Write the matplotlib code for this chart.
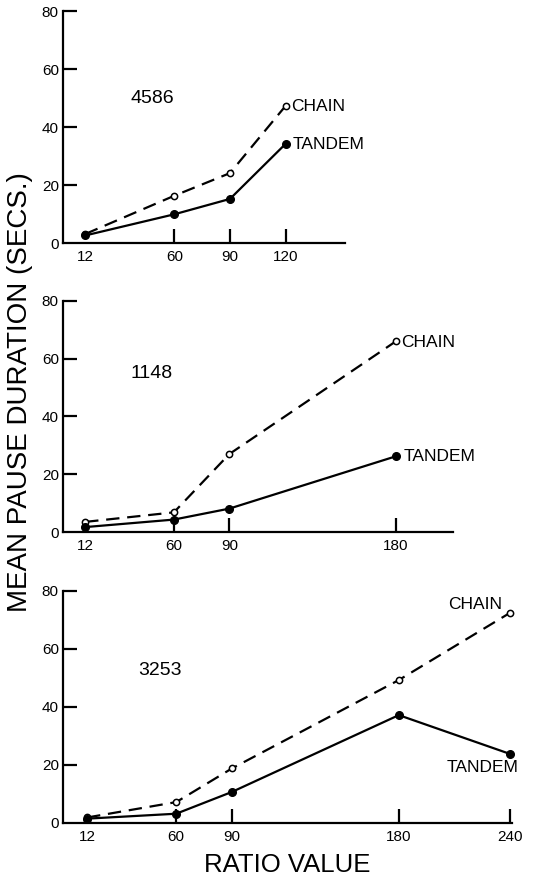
import matplotlib
matplotlib.use("Agg")
import matplotlib.pyplot as plt

# ratio values per subject
ratio_4586 = [12, 60, 90, 120]
chain_4586 = [3.1, 16.3, 24.1, 47.3]
tandem_4586 = [2.6, 9.9, 15.2, 34.2]

ratio_1148 = [12, 60, 90, 180]
chain_1148 = [3.5, 6.8, 27.0, 66.0]
tandem_1148 = [1.7, 4.3, 8.1, 26.2]

ratio_3253 = [12, 60, 90, 180, 240]
chain_3253 = [1.9, 7.2, 18.8, 49.3, 72.5]
tandem_3253 = [1.5, 3.2, 10.7, 37.2, 23.8]

yticks = [0, 20, 40, 60, 80]

plt.rcParams['font.family'] = ['Liberation Sans', 'DejaVu Sans']

W, H = 533, 881
fig = plt.figure(figsize=(W / 100, H / 100), dpi=100)


def make_ax(x0, x1, ytop, ybot):
    return fig.add_axes([x0 / W, 1 - ybot / H, (x1 - x0) / W, (ybot - ytop) / H])


def style(ax, xt, xlim):
    for s in ['top', 'right']:
        ax.spines[s].set_visible(False)
    for s in ['left', 'bottom']:
        ax.spines[s].set_linewidth(1.6)
    ax.set_xlim(*xlim)
    ax.set_ylim(0, 80)
    ax.set_yticks(yticks)
    ax.set_xticks(xt)
    ax.set_xticklabels([str(v) for v in xt])
    ax.tick_params(axis='both', direction='in', length=10, width=1.6,
                   labelsize=11)
    ax.tick_params(axis='y', pad=3)
    ax.tick_params(axis='x', pad=5)
    ax.xaxis.get_major_ticks()[0].tick1line.set_visible(False)
    ax.yaxis.get_major_ticks()[0].tick1line.set_visible(False)


def draw(ax, x, chain, tandem):
    ax.plot(x, chain, color='black', lw=1.6, dashes=(6, 3.5), marker='o',
            ms=4.5, mfc='white', mec='black', mew=1.1, clip_on=False, zorder=3)
    ax.plot(x, tandem, color='black', lw=1.6, marker='o', ms=5.5,
            mfc='black', mec='black', clip_on=False, zorder=4)


ax1 = make_ax(63, 345, 11, 243)
style(ax1, ratio_4586, (0, 152))
draw(ax1, ratio_4586, chain_4586, tandem_4586)
ax1.text(48, 50, '4586', fontsize=14, ha='center', va='center')
ax1.text(123, 47, 'CHAIN', fontsize=12.5, ha='left', va='center')
ax1.text(124, 34, 'TANDEM', fontsize=12.5, ha='left', va='center')

ax2 = make_ax(63, 453, 301, 532)
style(ax2, ratio_1148, (0, 211))
draw(ax2, ratio_1148, chain_1148, tandem_1148)
ax2.text(48, 55, '1148', fontsize=14, ha='center', va='center')
ax2.text(183, 65.7, 'CHAIN', fontsize=12.5, ha='left', va='center')
ax2.text(184.5, 26, 'TANDEM', fontsize=12.5, ha='left', va='center')

ax3 = make_ax(63, 512, 591, 823)
style(ax3, ratio_3253, (-1, 241))
draw(ax3, ratio_3253, chain_3253, tandem_3253)
ax3.text(51, 52.5, '3253', fontsize=14, ha='center', va='center')
ax3.text(235.5, 75.5, 'CHAIN', fontsize=12.5, ha='right', va='center')
ax3.text(225, 19, 'TANDEM', fontsize=12.5, ha='center', va='center')

fig.text(20 / W, 1 - 392 / H, 'MEAN PAUSE DURATION (SECS.)', rotation=90,
         fontsize=20, ha='center', va='center')
fig.text(287 / W, 1 - 865 / H, 'RATIO VALUE', fontsize=18.5,
         ha='center', va='center')

fig.savefig('out.png', dpi=100)
